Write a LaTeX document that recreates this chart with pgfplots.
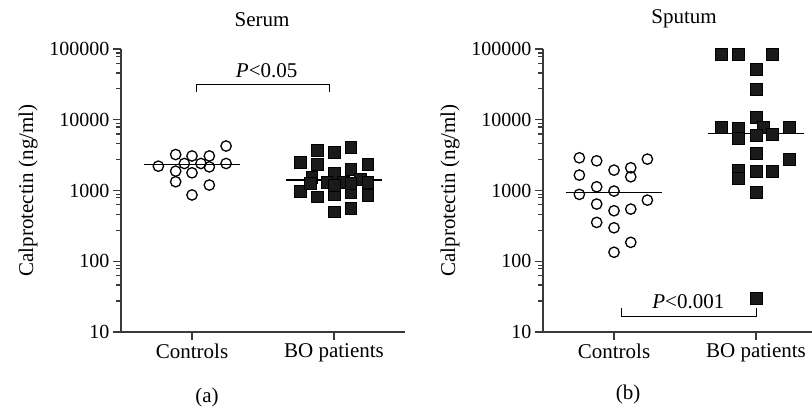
\documentclass[border=0pt]{standalone}
\usepackage{fontspec}
\setmainfont{Liberation Serif}
\usepackage{pgfplots}
\usepackage{pgfplotstable}
\pgfplotsset{compat=1.18}

\definecolor{axisgray}{HTML}{3A3A3A}
\definecolor{sqfill}{HTML}{1A1A1A}

% serum, controls
\pgfplotstableread{
x y
-0.237 2208
-0.115 3222
-0.115 1878
-0.115 1330
-0.054 2408
0 3078
0 1778
0 865
0.063 2408
0.122 3078
0.122 2158
0.122 1194
0.24 4254
0.24 2408
}\serumctl

% serum, BO patients
\pgfplotstableread{
x y
0.761 2494
0.882 3722
0.882 2360
1 3452
1.118 4063
1.237 2360
0.843 1531
1 1745
1.118 2005
1.183 1449
0.761 990
0.831 1259
0.882 815
0.949 1327
1 889
1.065 1327
1.118 940
1.237 1300
1.237 861
1 500
1.118 559
1 1200
1.118 1265
}\serumbo

% sputum, controls
\pgfplotstableread{
x y
-0.244 2897
-0.122 2627
0 1941
0.118 2094
0.235 2778
-0.244 1651
0.118 1562
-0.122 1128
0 981
-0.244 881
-0.122 643
0 517
0.118 546
0.235 731
-0.122 354
0 297
0.118 185
0 134
}\sputumctl

% sputum, BO patients
\pgfplotstableread{
x y
0.754 84500
0.876 84500
1.115 84500
1 51300
1 26800
1 10990
0.754 7780
0.876 7535
0.876 5445
1.052 7780
1 6058
1.115 6265
1.232 7780
1 3342
1.232 2778
0.876 1941
1 1879
1.115 1879
0.876 1497
1 940
1 30
}\sputumbo

\newcommand\bigtxt{\fontsize{21bp}{25bp}\selectfont}

\pgfplotsset{
  calpro/.style={
    scale only axis, height=283bp,
    ymin=10, ymax=100000, xmin=-0.5,
    axis lines=left,
    axis line style={-, line width=1.4bp, color=axisgray},
    ytick={10,100,1000,10000,100000},
    yticklabels={10,100,1000,10000,100000},
    minor ytick={27.5,46,63,79,88,275,460,630,790,880,2750,4600,6300,7900,8800,27500,46000,63000,79000,88000},
    xtick={0,1}, xticklabels={Controls,BO patients},
    tick align=outside, major tick length=8bp, minor tick length=5bp,
    tick style={line width=1.3bp, color=axisgray},
    yticklabel style={font=\fontsize{20bp}{24bp}\selectfont},
    xticklabel style={font=\bigtxt},
    label style={font=\bigtxt},
    ylabel={Calprotectin (ng/ml)}, ylabel shift=5bp,
    clip=false,
  },
  ctlpts/.style={only marks, mark=o, mark size=5.2bp, mark options={line width=1.3bp, draw=black}},
  bopts/.style={only marks, mark=square*, mark size=5.9bp, mark options={draw=none, fill=sqfill}},
  medline/.style={no marks, line width=1.3bp, black},
  brkline/.style={no marks, line width=1bp, black},
}

\begin{document}
\begin{tikzpicture}
\useasboundingbox (0,0) rectangle (812bp,410bp);
\begin{semilogyaxis}[calpro, at={(121bp,78bp)}, anchor=south west, width=284bp, xmax=1.5]
  \addplot[ctlpts] table[x=x,y=y] {\serumctl};
  \addplot[bopts] table[x=x,y=y] {\serumbo};
  \addplot[medline] coordinates {(-0.335,2333) (0.335,2333)};
  \addplot[medline] coordinates {(0.665,1403) (1.335,1403)};
  \addplot[brkline] coordinates {(0.03,24550) (0.03,31850) (0.97,31850) (0.97,24550)};
  \node[font=\bigtxt] at (axis cs:0.526,49300) {\textit{P}<0.05};
\end{semilogyaxis}
\begin{semilogyaxis}[calpro, at={(543bp,78bp)}, anchor=south west, width=269bp, xmax=1.394]
  \addplot[ctlpts] table[x=x,y=y] {\sputumctl};
  \addplot[bopts] table[x=x,y=y] {\sputumbo};
  \addplot[medline] coordinates {(-0.338,928) (0.338,928)};
  \addplot[medline] coordinates {(0.665,6404) (1.335,6404)};
  \addplot[brkline] coordinates {(0.05,21.6) (0.05,16.8) (1.0,16.8) (1.0,21.6)};
  \node[font=\bigtxt] at (axis cs:0.523,27) {\textit{P}<0.001};
\end{semilogyaxis}
\begin{scope}[every node/.style={font=\bigtxt}]
  \node at (262bp,390bp) {Serum};
  \node at (684bp,391bp) {Sputum};
  \node at (207bp,13bp) {(a)};
  \node at (628bp,16bp) {(b)};
\end{scope}
\end{tikzpicture}
\end{document}
